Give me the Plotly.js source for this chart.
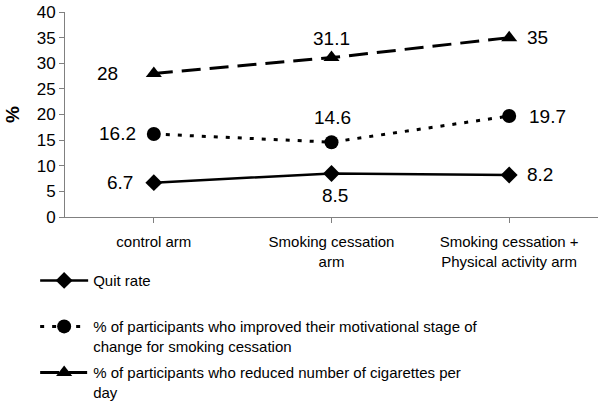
<!DOCTYPE html>
<html>
<head>
<meta charset="utf-8">
<script src="https://cdn.plot.ly/plotly-3.0.1.min.js"></script>
<style>html,body{margin:0;padding:0;background:#fff;}#chart{width:600px;height:402px;}</style>
</head>
<body>
<div id="chart"></div>
<script>
// ---- data ----
const categories = ["control arm", "Smoking cessation<br>arm", "Smoking cessation +<br>Physical activity arm"];
const quitRate = [6.7, 8.5, 8.2];
const improvedStage = [16.2, 14.6, 19.7];
const reducedCigs = [28, 31.1, 35];
const seriesNames = [
  "Quit rate<br> ",
  "% of participants who improved their motivational stage of<br>change for smoking cessation",
  "% of participants who reduced number of cigarettes per<br>day"
];
const yTicks = [0, 5, 10, 15, 20, 25, 30, 35, 40];

// ---- label offsets (style, px) ----
const quitShift = [[-34, 0], [3, -22], [31, 0]];
const stageShift = [[-36, 0], [1, 25], [38, 0]];
const cigShift = [[-46, 0], [0, 19], [28, 0]];

const font = "Liberation Sans, Arial, sans-serif";
const xIdx = categories.map((c, i) => i);

const traces = [
  {x: xIdx, y: quitRate, name: seriesNames[0], legendgroup: "a", mode: "lines+markers",
   line: {color: "#000", width: 2.5, dash: "solid"},
   marker: {symbol: "diamond", size: 13, color: "#000"}},
  {x: xIdx, y: improvedStage, name: seriesNames[1], legendgroup: "b", mode: "lines+markers",
   line: {color: "#000", width: 3, dash: "4px,8px"},
   marker: {symbol: "circle", size: 14, color: "#000"}},
  {x: xIdx, y: reducedCigs, name: seriesNames[2], legendgroup: "c", mode: "lines+markers",
   line: {color: "#000", width: 3, dash: "19px,9px"},
   marker: {symbol: "triangle-up", size: 14, color: "#000"}}
];

const annotations = [];
[[quitRate, quitShift], [improvedStage, stageShift], [reducedCigs, cigShift]].forEach(([vals, sh]) => {
  vals.forEach((v, i) => {
    annotations.push({x: i, y: v, xref: "x", yref: "y", text: String(v), showarrow: false,
      xshift: sh[i][0], yshift: sh[i][1], font: {family: font, size: 19, color: "#000"}});
  });
});

const layout = {
  width: 600, height: 402,
  margin: {l: 65, r: 2, t: 12, b: 185, autoexpand: false},
  paper_bgcolor: "#fff", plot_bgcolor: "#fff",
  font: {family: font, color: "#000"},
  showlegend: true,
  legend: {x: -0.056, xanchor: "left", y: -0.23, yanchor: "top", orientation: "v",
    font: {family: font, size: 15, color: "#000"}, valign: "top", itemwidth: 48,
    traceorder: "grouped", tracegroupgap: 4, bgcolor: "rgba(0,0,0,0)"},
  xaxis: {range: [-0.5, 2.5], tickmode: "array", tickvals: xIdx, ticktext: categories,
    showgrid: false, zeroline: false, showline: true, linecolor: "#808080", linewidth: 1,
    ticks: "outside", tickson: "boundaries", ticklen: 5, tickcolor: "#808080",
    ticklabelstandoff: 6,
    tickfont: {family: font, size: 15, color: "#000"}, fixedrange: true},
  yaxis: {range: [0, 40], tickmode: "array", tickvals: yTicks, ticktext: yTicks.map(String),
    showgrid: false, zeroline: false, showline: true, linecolor: "#808080", linewidth: 1,
    ticks: "outside", ticklen: 5, tickcolor: "#808080",
    tickfont: {family: font, size: 17, color: "#000"},
    title: {text: "<b>%</b>", font: {family: font, size: 19, color: "#000"}, standoff: 12}},
  annotations: annotations
};

Plotly.newPlot("chart", traces, layout, {displayModeBar: false, staticPlot: true});
</script>
</body>
</html>
